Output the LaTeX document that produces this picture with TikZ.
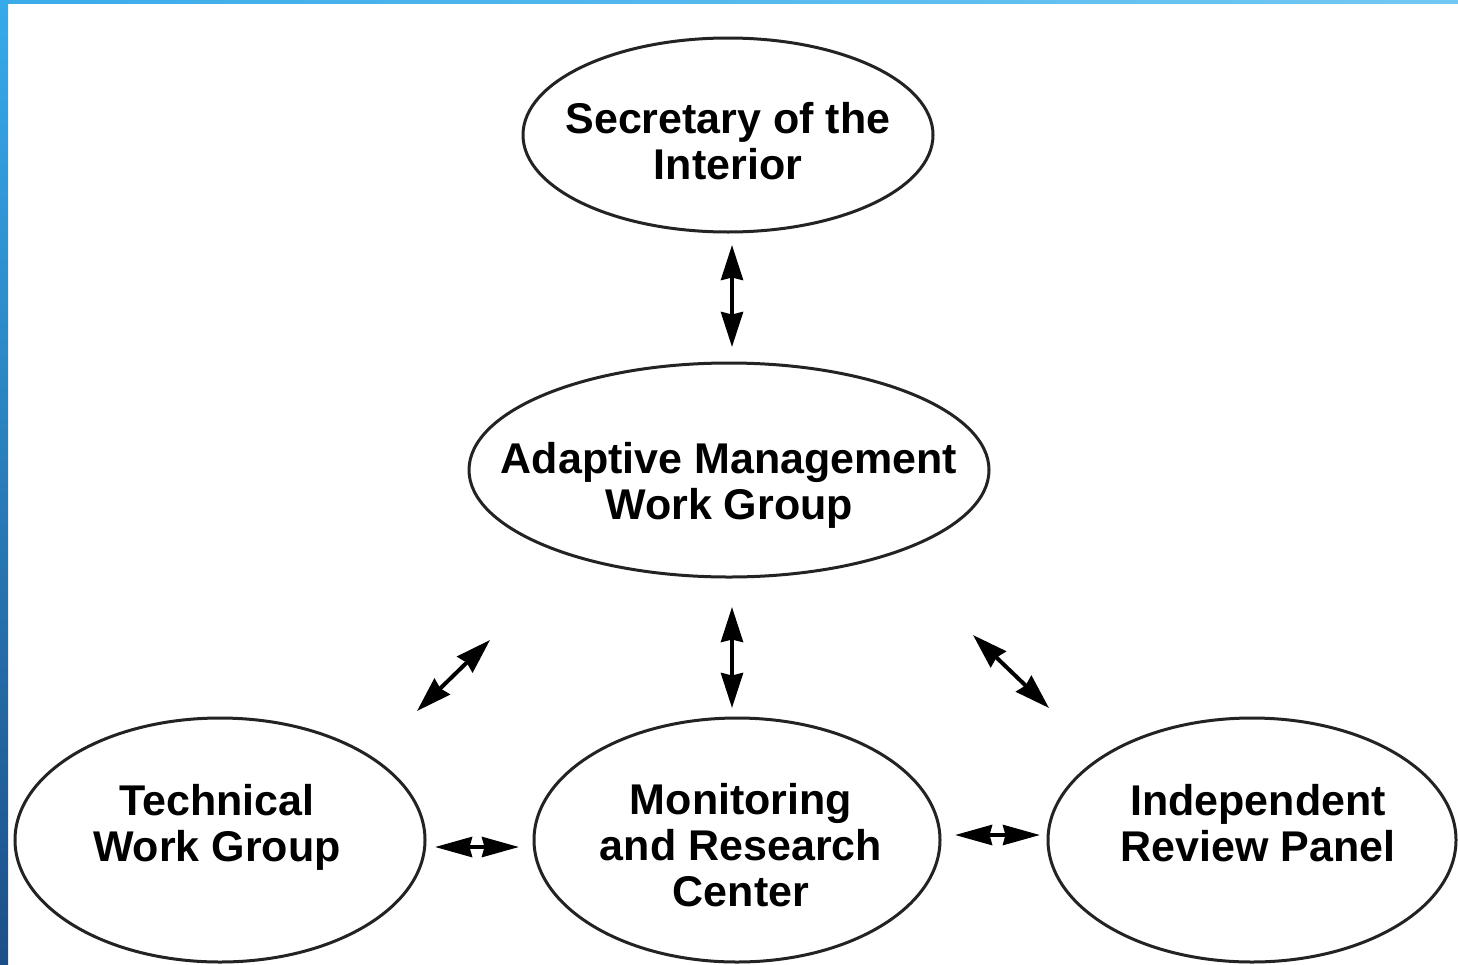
\documentclass[tikz,border=0pt]{standalone}
\usepackage{fontspec}
\setmainfont{Liberation Sans}
\usetikzlibrary{arrows.meta,shapes.geometric}
\definecolor{edgecol}{HTML}{232323}
\definecolor{barTop}{HTML}{37AAEB}
\definecolor{barBot}{HTML}{1C4F88}
\definecolor{topL}{HTML}{3AABEA}
\definecolor{topR}{HTML}{72C8F2}
\newcommand\lines[1]{\begin{tabular}[t]{@{}c@{}}#1\end{tabular}}
\tikzset{
  oval/.style={ellipse, draw=edgecol, line width=3pt, inner sep=0pt},
  lbl/.style={anchor=base, inner sep=0pt, font=\fontsize{43}{46}\selectfont\bfseries, text=black},
  dbl/.style={line width=4pt, draw=black, {Stealth[length=35pt,width=22pt,inset=2.5pt]}-{Stealth[length=35pt,width=22pt,inset=2.5pt]}},
  hdbl/.style={line width=4pt, draw=black, {Stealth[length=37pt,width=20pt,inset=2.5pt]}-{Stealth[length=37pt,width=20pt,inset=2.5pt]}},
}
\begin{document}
\begin{tikzpicture}[x=1pt,y=-1pt]
\useasboundingbox (0,0) rectangle (1458,964);
\fill[white] (0,0) rectangle (1458,964);
\shade[left color=topL, right color=topR] (0,0) rectangle (1458,3);
\shade[top color=barTop, bottom color=barBot] (0,0) rectangle (8,964);

% ellipses
\node[oval, minimum width=410pt, minimum height=194pt] (sec) at (728,135) {};
\node[oval, minimum width=520pt, minimum height=214pt] (amwg) at (729,470) {};
\node[oval, minimum width=410pt, minimum height=244pt] (twg) at (220,840) {};
\node[oval, minimum width=406pt, minimum height=244pt] (mrc) at (737,840) {};
\node[oval, minimum width=408pt, minimum height=244pt] (irp) at (1252,840) {};

% texts
\node[lbl] (secT) at (728,133) {\lines{Secretary of the\\Interior}};
\node[lbl] (amwgT) at (729,473) {\lines{Adaptive Management\\Work Group}};
\node[lbl] (twgT) at (217,815) {\lines{Technical\\Work Group}};
\node[lbl] (mrcT) at (741,814) {\lines{Monitoring\\and Research\\Center}};
\node[lbl] (irpT) at (1258,815) {\lines{Independent\\Review Panel}};

% arrow end points
\coordinate (a1s) at (732,245); \coordinate (a1e) at (732,347);
\coordinate (a2s) at (732,607); \coordinate (a2e) at (732,708);
\coordinate (a3s) at (490,640); \coordinate (a3e) at (417,711);
\coordinate (a4s) at (973,635); \coordinate (a4e) at (1049,708);
\coordinate (a5s) at (435,847); \coordinate (a5e) at (519,847);
\coordinate (a6s) at (955,835); \coordinate (a6e) at (1040,835);

\draw[dbl] (a1s) -- (a1e);
\draw[dbl] (a2s) -- (a2e);
\draw[dbl] (a3s) -- (a3e);
\draw[dbl] (a4s) -- (a4e);
\draw[hdbl] (a5s) -- (a5e);
\draw[hdbl] (a6s) -- (a6e);
\end{tikzpicture}
\end{document}
